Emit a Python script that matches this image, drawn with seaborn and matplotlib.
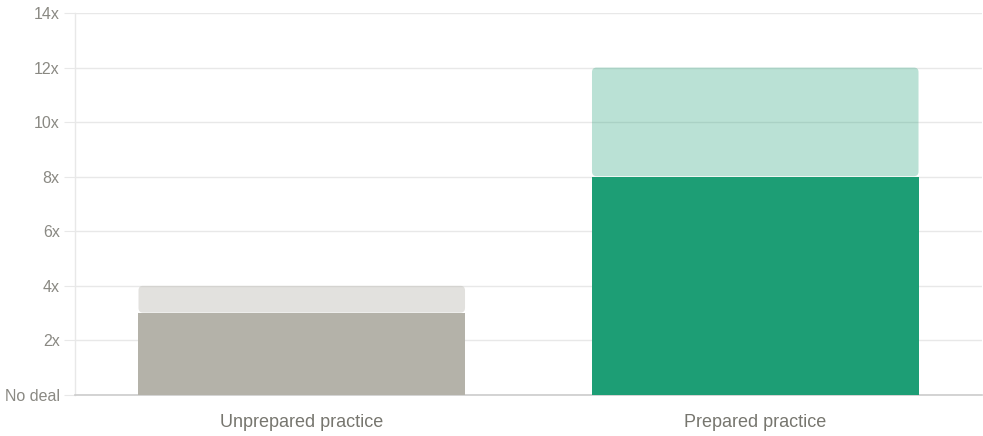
import matplotlib
matplotlib.use("Agg")
import matplotlib.pyplot as plt
import seaborn as sns
import pandas as pd
from matplotlib.patches import FancyBboxPatch

categories = ["Unprepared practice", "Prepared practice"]
base_values = [3, 8]
total_values = [4, 12]
base_colors = ["#b4b2a9", "#1d9e75"]
light_alphas = [0.38, 0.3]
yticks = [0, 2, 4, 6, 8, 10, 12, 14]
ytick_labels = ["No deal", "2x", "4x", "6x", "8x", "10x", "12x", "14x"]

sns.set_theme(style="white")
plt.rcParams["font.family"] = ["Liberation Sans", "DejaVu Sans"]

df = pd.DataFrame({"category": categories, "base": base_values, "total": total_values})

fig = plt.figure(figsize=(9.83, 4.36), dpi=100)
ax = fig.add_axes([75 / 983, 41 / 436, 1 - 75 / 983 - 1 / 983, (395 - 13) / 436])
ax.set_axisbelow(True)

# total (light) bars
sns.barplot(data=df, x="category", y="total", hue="category", palette=base_colors,
            width=0.72, legend=False, ax=ax, linewidth=0, saturation=1)
ax.set_ylim(0, 14)
ax.set_xlim(-0.5, 1.5)

# convert light bars to rounded boxes
fig.canvas.draw()
px_per_x = ax.transData.transform((1, 0))[0] - ax.transData.transform((0, 0))[0]
px_per_y = ax.transData.transform((0, 1))[1] - ax.transData.transform((0, 0))[1]
r_px = 4.5
light_patches = list(ax.patches)
for p, b, a in zip(light_patches, base_values, light_alphas):
    x0, w, h = p.get_x(), p.get_width(), p.get_height()
    fc = p.get_facecolor()
    p.remove()
    box = FancyBboxPatch((x0, b + 0.02), w, h - b - 0.02,
                         boxstyle=f"round,pad=0,rounding_size={r_px / px_per_x}",
                         mutation_aspect=px_per_x / px_per_y,
                         facecolor=fc[:3], alpha=a, edgecolor="none", zorder=2)
    ax.add_patch(box)

# base bars
sns.barplot(data=df, x="category", y="base", hue="category", palette=base_colors,
            width=0.72, legend=False, ax=ax, linewidth=0, saturation=1, zorder=3)

ax.set_ylim(0, 14)
ax.set_xlim(-0.5, 1.5)
ax.set_yticks(yticks)
ax.set_yticklabels(ytick_labels)
ax.set_xlabel("")
ax.set_ylabel("")

ax.grid(axis="y", color="#e8e8e8", linewidth=1)
ax.grid(axis="x", visible=False)
for s in ["top", "right"]:
    ax.spines[s].set_visible(False)
ax.spines["left"].set_color("#e8e8e8")
ax.spines["left"].set_linewidth(1)
ax.spines["bottom"].set_color("#cccccc")
ax.spines["bottom"].set_linewidth(1.2)

ax.tick_params(axis="y", length=8, width=0.8, color="#e8e8e8", pad=3,
               labelsize=11.5, labelcolor="#8a8983", left=True)
ax.tick_params(axis="x", length=0, pad=14, labelsize=13, labelcolor="#77766f")

fig.savefig("out.png", dpi=100)
